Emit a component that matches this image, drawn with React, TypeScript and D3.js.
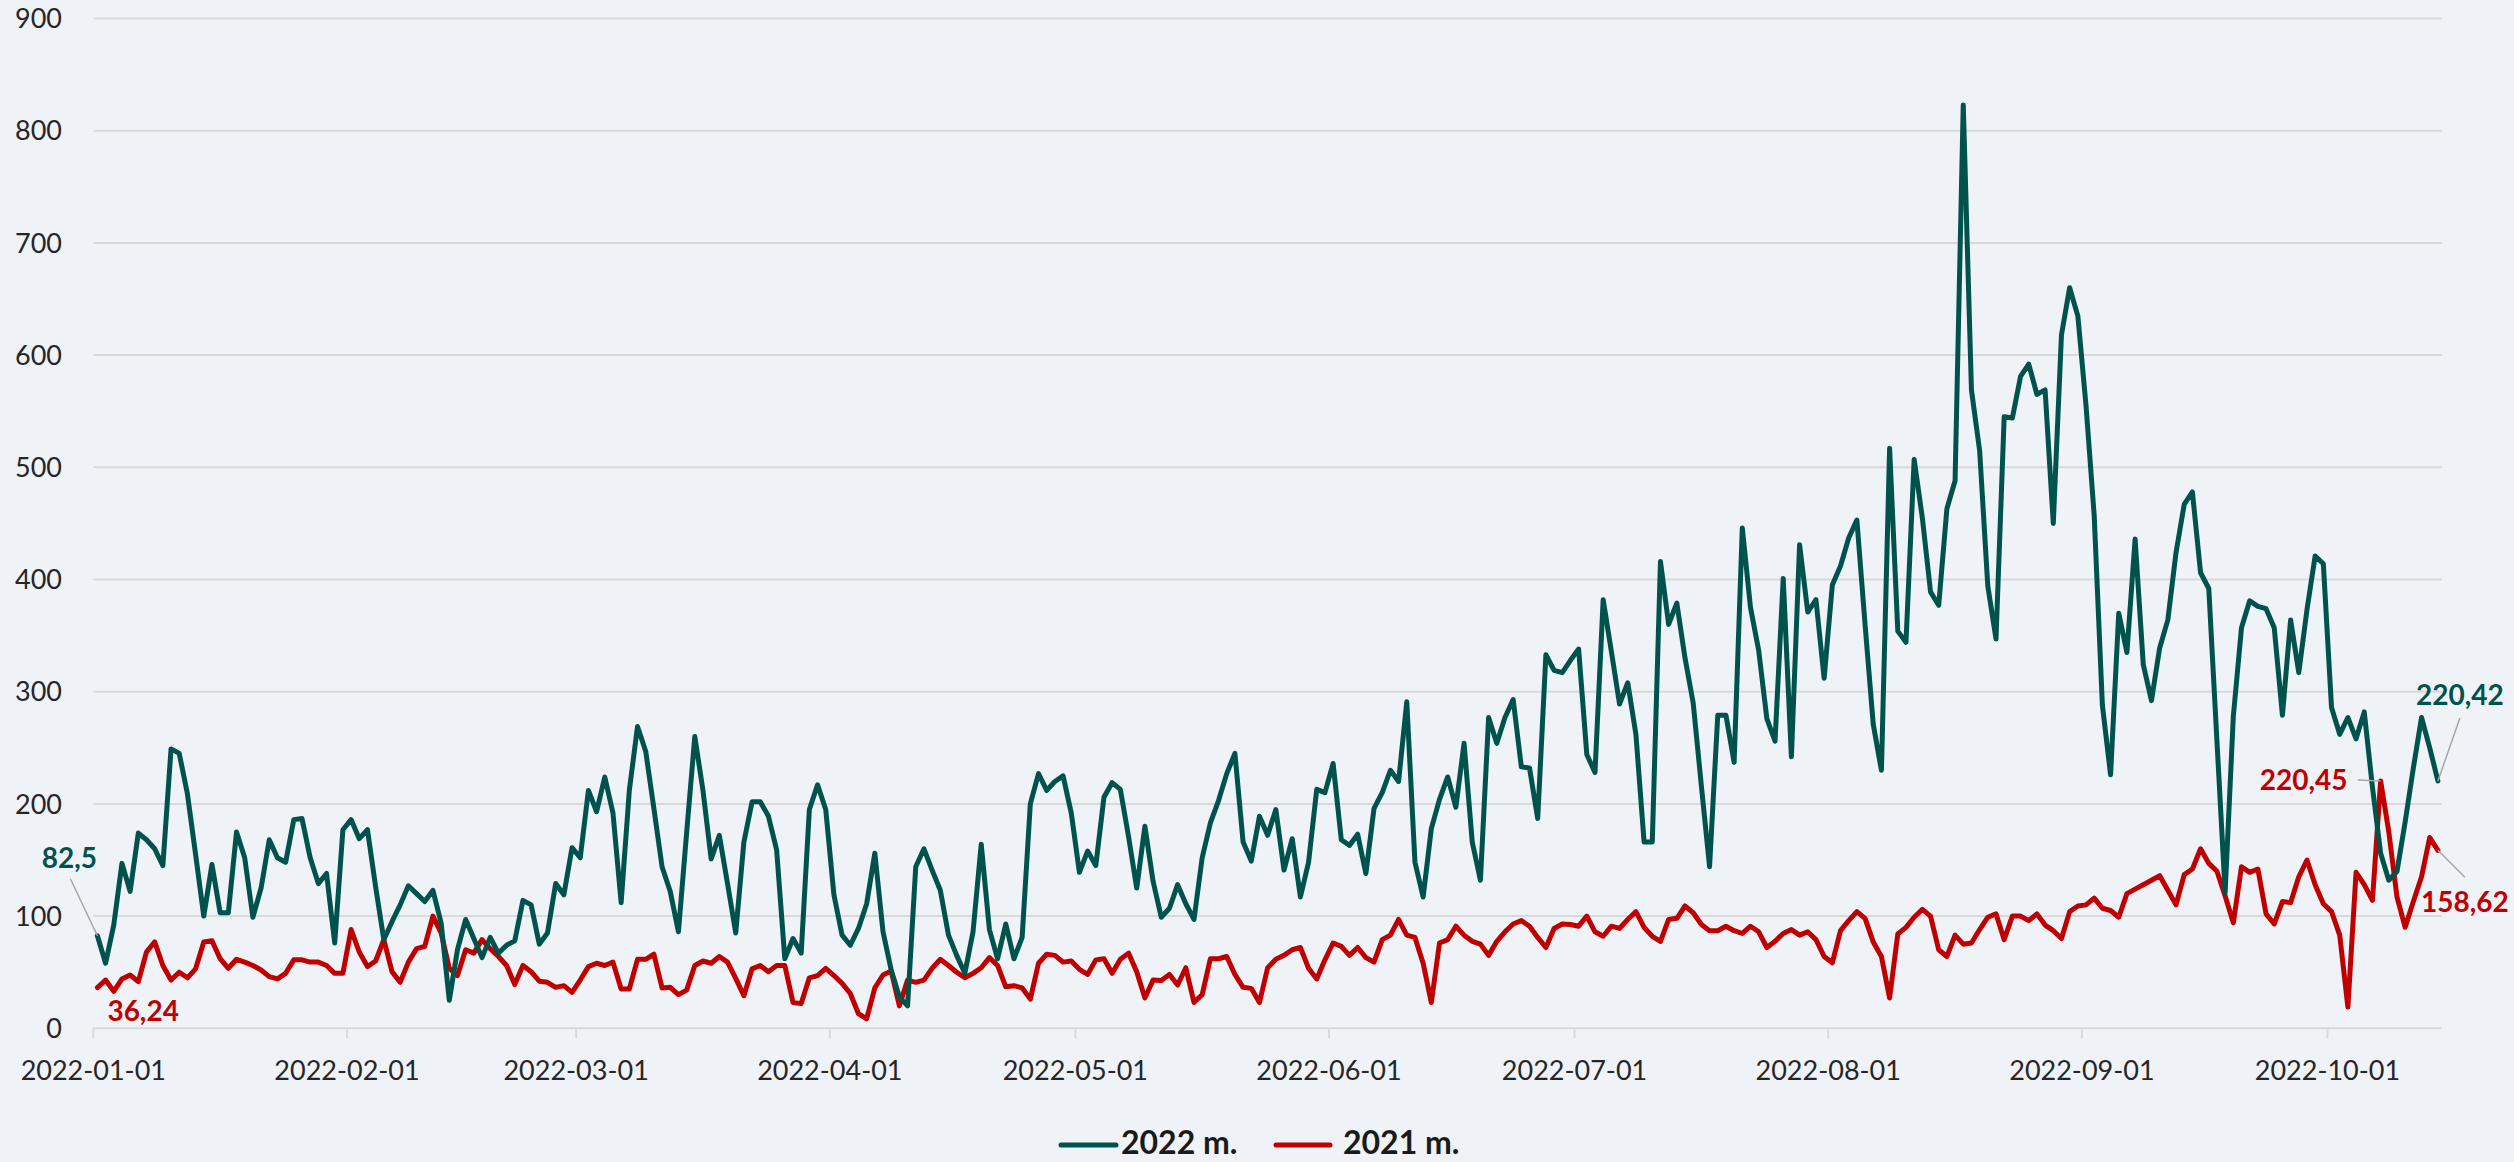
import React from "react";
import * as d3 from "d3";

const START = "2022-01-01";
const END = "2022-10-15";

const series2022 = [
  82.5, 58, 92, 147, 122, 174, 168, 160, 145, 249, 245, 209, 155, 100, 146, 103, 103, 175, 152, 99,
  125, 168, 152, 148, 186, 187, 152, 129, 138, 76, 177, 186, 169, 177, 126, 79, 95, 110, 127, 120,
  113, 123, 94, 25, 70, 97, 80, 63, 81, 67, 74, 78, 114, 110, 75, 85, 129, 119, 161, 152,
  212, 193, 224, 192, 112, 212, 269, 247, 196, 144, 122, 86, 174, 260, 212, 151, 172, 129, 85, 166,
  202, 202, 189, 159, 62, 80, 67, 195, 217, 195, 119, 83, 74, 89, 111, 156, 86, 52, 28, 20,
  144, 160, 141, 123, 83, 65, 49, 86, 164, 88, 62, 93, 62, 81, 200, 227, 212, 220, 225, 192,
  139, 158, 145, 206, 219, 213, 171, 125, 180, 131, 99, 107, 128, 111, 97, 152, 183, 203, 227, 245,
  166, 149, 189, 172, 195, 141, 169, 117, 148, 213, 210, 236, 168, 163, 173, 138, 196, 210, 230, 220,
  291, 148, 117, 178, 204, 224, 197, 254, 166, 132, 277, 254, 277, 293, 233, 232, 187, 333, 319, 317,
  328, 338, 244, 228, 382, 336, 289, 308, 262, 166, 166, 416, 360, 379, 330, 290, 216, 144, 279, 279,
  237, 446, 375, 337, 276, 256, 401, 242, 431, 371, 382, 312, 395, 412, 437, 453, 360, 271, 230, 517,
  354, 344, 507, 455, 389, 377, 463, 488, 823, 569, 515, 394, 347, 545, 544, 581, 592, 565, 569, 450,
  618, 660, 635, 555, 457, 288, 226, 370, 335, 436, 324, 292, 339, 364, 424, 467, 478, 406, 392, 256,
  121, 278, 357, 381, 376, 374, 357, 279, 364, 317, 373, 421, 414, 286, 262, 277, 258, 282, 215, 156,
  132, 140, 184, 232, 277, 250, 220.42,
];

const series2021 = [
  36.24, 43, 33, 44, 47.5, 41.6, 68, 77, 56, 43, 50, 45, 53, 77, 78, 62, 53.5, 61.5, 59, 56,
  52, 46, 44, 49, 61, 61, 59, 59, 56, 49, 49, 88, 68, 55, 60, 79, 50.5, 41, 59, 71,
  73, 100, 85, 53.5, 47, 70, 67, 79, 71, 64, 56, 39, 56, 50.5, 42, 41, 36.5, 38, 32, 43,
  55, 58, 56, 59, 35, 35, 61.5, 61.5, 66, 36, 36.5, 30, 34, 56, 60, 58, 64, 59, 44.5, 29,
  53, 56, 50.5, 56, 56, 23, 22, 45, 47, 53.5, 47, 40, 31, 13, 8.5, 36, 47.5, 51, 20, 43,
  41, 43, 53.5, 61.5, 56, 50, 45, 49, 54, 63, 56, 37, 38, 36, 26, 58, 66, 65, 59, 60,
  52.6, 48, 61, 62, 49, 61.5, 67, 50.5, 27, 43, 42.5, 48, 38.6, 54, 23, 30, 62, 62, 64, 48,
  36.5, 35.6, 23, 54, 61.5, 65, 70, 72, 53.5, 44, 61, 76, 73, 65, 72, 63, 59, 79, 83, 97,
  83, 81, 58, 23, 76, 79, 91, 83, 77.5, 75, 65, 77.5, 86, 93, 96, 91, 81, 72, 89, 93,
  92.5, 91, 100, 86, 82, 91, 89, 97, 104, 90, 82, 77.5, 97, 98, 109, 103, 92.5, 87, 87, 91,
  87, 84.5, 91, 86, 72, 77.5, 84.5, 88, 83, 86, 79, 64, 58.4, 87, 96, 104, 98, 77, 64, 27,
  84, 90, 99, 106, 100, 70, 64, 83, 75, 76, 88, 99, 102, 79, 100, 100, 96, 102, 92, 87,
  80, 104, 109, 110, 116, 107, 105, 99, 120, 124, 128, 132, 136, 123, 110, 137, 142, 160, 147, 140,
  118, 94, 144, 139, 142, 102, 93, 113, 112, 135, 150, 128, 111, 104, 83, 19, 139, 128, 114, 220.45,
  175, 117, 90, 113, 135, 170, 158.62,
];

const yTicks = [0, 100, 200, 300, 400, 500, 600, 700, 800, 900];
const monthTicks = [
  "2022-01-01", "2022-02-01", "2022-03-01", "2022-04-01", "2022-05-01",
  "2022-06-01", "2022-07-01", "2022-08-01", "2022-09-01", "2022-10-01",
];
const seriesNames = ["2022 m.", "2021 m."];
const colors = ["#00524d", "#c00000"];

const W = 2514;
const H = 1162;
const FONT = "Lato, 'Open Sans', 'DejaVu Sans', sans-serif";
const DAY = 86400000;

export default function App() {
  const start = Date.parse(START + "T00:00:00Z");
  const end = Date.parse(END + "T00:00:00Z");
  const x = d3.scaleUtc().domain([new Date(start), new Date(end)]).range([93.3, 2442]);
  const y = d3.scaleLinear().domain([0, 900]).range([1028.3, 18.5]);

  const dateOf = (i: number) => new Date(start + i * DAY + DAY / 2);
  const line = d3
    .line<number>()
    .x((_, i) => x(dateOf(i)))
    .y((v) => y(v));

  const p = (arr: number[], i: number) => [x(dateOf(i)), y(arr[i])];
  const a0 = p(series2022, 0);
  const b0 = p(series2021, 0);
  const aLast = p(series2022, series2022.length - 1);
  const bLast = p(series2021, series2021.length - 1);
  const bPeakIdx = series2021.indexOf(d3.max(series2021) as number);
  const bPeak = p(series2021, bPeakIdx);
  const fmt = (v: number) => String(v).replace(".", ",");

  return (
    <svg
      width={W}
      height={H}
      style={{ position: "absolute", left: 0, top: 0, background: "#eff3f7" }}
      fontFamily={FONT}
    >
      <rect x={0} y={0} width={W} height={H} fill="#eff3f7" />
      {yTicks.map((t) => (
        <g key={t}>
          <line x1={93.3} x2={2442} y1={y(t)} y2={y(t)} stroke="#d9d9d9" strokeWidth={2} />
          <text x={62} y={y(t)} dy="0.36em" textAnchor="end" fontSize={27} fill="#262626">
            {t}
          </text>
        </g>
      ))}
      {monthTicks.map((m) => {
        const xx = x(new Date(Date.parse(m + "T00:00:00Z")));
        return (
          <g key={m}>
            <line x1={xx} x2={xx} y1={y(0)} y2={y(0) + 10} stroke="#d9d9d9" strokeWidth={2} />
            <text x={xx} y={1080} textAnchor="middle" fontSize={27} fill="#262626">
              {m}
            </text>
          </g>
        );
      })}
      <path
        d={line(series2021) || ""}
        fill="none"
        stroke={colors[1]}
        strokeWidth={5}
        strokeLinejoin="round"
        strokeLinecap="round"
      />
      <path
        d={line(series2022) || ""}
        fill="none"
        stroke={colors[0]}
        strokeWidth={5}
        strokeLinejoin="round"
        strokeLinecap="round"
      />
      {/* annotations */}
      <line x1={a0[0] - 27} y1={a0[1] - 57} x2={a0[0]} y2={a0[1]} stroke="#a6a6a6" strokeWidth={1.5} />
      <text x={a0[0] - 28} y={a0[1] - 68} textAnchor="middle" fontSize={28} fontWeight="bold" fill={colors[0]}>
        {fmt(series2022[0])}
      </text>
      <text x={b0[0] + 10} y={b0[1] + 33} textAnchor="start" fontSize={28} fontWeight="bold" fill={colors[1]}>
        {fmt(series2021[0])}
      </text>
      <line x1={bPeak[0] - 23} y1={bPeak[1] - 1} x2={bPeak[0]} y2={bPeak[1]} stroke="#a6a6a6" strokeWidth={1.5} />
      <text x={bPeak[0] - 33} y={bPeak[1] + 9} textAnchor="end" fontSize={28} fontWeight="bold" fill={colors[1]}>
        {fmt(series2021[bPeakIdx])}
      </text>
      <line x1={aLast[0] + 22} y1={aLast[1] - 63} x2={aLast[0]} y2={aLast[1]} stroke="#a6a6a6" strokeWidth={1.5} />
      <text x={aLast[0] - 22} y={aLast[1] - 76} textAnchor="start" fontSize={28} fontWeight="bold" fill={colors[0]}>
        {fmt(series2022[series2022.length - 1])}
      </text>
      <line x1={bLast[0] + 27} y1={bLast[1] + 27} x2={bLast[0]} y2={bLast[1]} stroke="#a6a6a6" strokeWidth={1.5} />
      <text x={bLast[0] - 17} y={bLast[1] + 62} textAnchor="start" fontSize={28} fontWeight="bold" fill={colors[1]}>
        {fmt(series2021[series2021.length - 1])}
      </text>
      {/* legend */}
      <g>
        <line x1={1061} x2={1116} y1={1145} y2={1145} stroke={colors[0]} strokeWidth={5} strokeLinecap="round" />
        <text x={1121} y={1154} fontSize={32} fontWeight="bold" fill="#1a1a1a">
          {seriesNames[0]}
        </text>
        <line x1={1276} x2={1330} y1={1145} y2={1145} stroke={colors[1]} strokeWidth={5} strokeLinecap="round" />
        <text x={1343} y={1154} fontSize={32} fontWeight="bold" fill="#1a1a1a">
          {seriesNames[1]}
        </text>
      </g>
    </svg>
  );
}
